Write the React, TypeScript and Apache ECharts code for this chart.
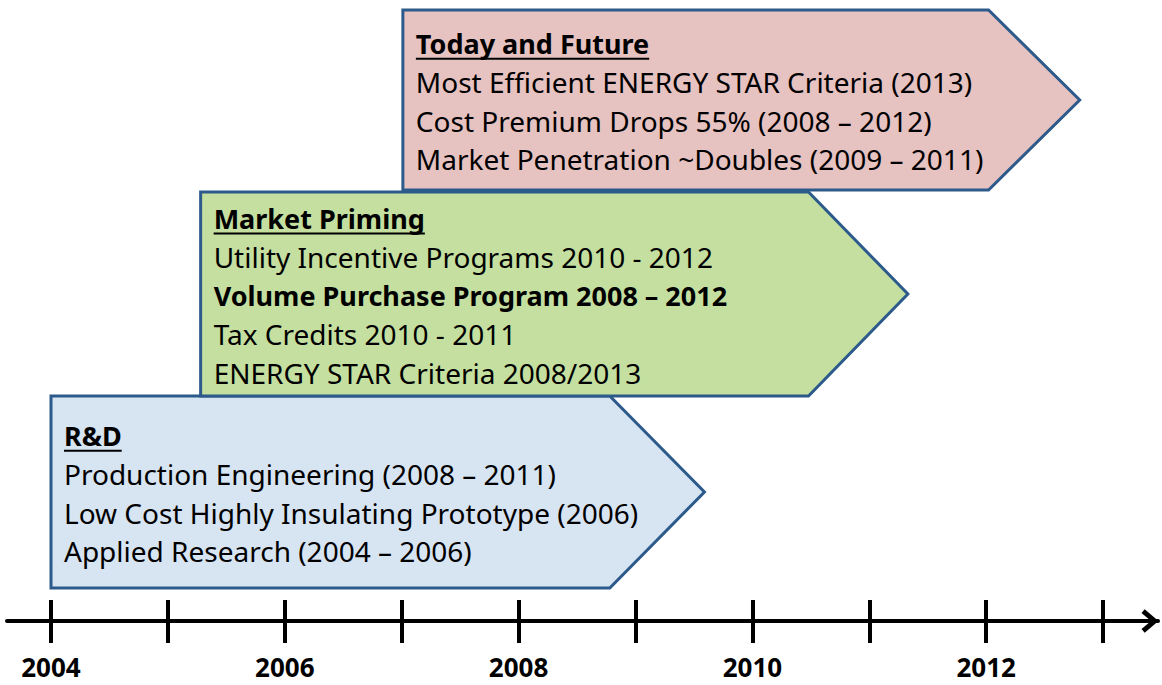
import React, { useEffect, useRef } from "react";
import * as echarts from "echarts";

// ---- data ----
const tickYears = [2004, 2005, 2006, 2007, 2008, 2009, 2010, 2011, 2012, 2013];
const labelYears = [2004, 2006, 2008, 2010, 2012];

const phaseTitles = ["R&D", "Market Priming", "Today and Future"];
const phaseStart = [2004.0, 2005.28, 2007.01];
const phaseBodyEnd = [2008.78, 2010.48, 2012.02];
const phaseTip = [2009.59, 2011.33, 2012.8];

const rdItems = [
  "Production Engineering (2008 – 2011)",
  "Low Cost Highly Insulating Prototype (2006)",
  "Applied Research (2004 – 2006)",
];
const primingItems = [
  "Utility Incentive Programs 2010 - 2012",
  "Volume Purchase Program 2008 – 2012",
  "Tax Credits 2010 - 2011",
  "ENERGY STAR Criteria 2008/2013",
];
const primingBold = [false, true, false, false];
const futureItems = [
  "Most Efficient ENERGY STAR Criteria (2013)",
  "Cost Premium Drops 55% (2008 – 2012)",
  "Market Penetration ~Doubles (2009 – 2011)",
];

const phaseItems = [rdItems, primingItems, futureItems];
const phaseBold = [rdItems.map(() => false), primingBold, futureItems.map(() => false)];

// ---- layout / style (not data) ----
const bands = [
  [33, 225],
  [225, 429],
  [431, 611],
];
const fills = ["#d7e4f2", "#c4df9f", "#e6c2c1"];
const borderColor = "#2c5a8b";
const FONT = '"Noto Sans", sans-serif';
const FS = 28;
const FS_BOLD = 27;
const LINE_H = 38.5;

function measure(text: string, bold: boolean) {
  const size = bold ? FS_BOLD : FS;
  const c = document.createElement("canvas").getContext("2d");
  if (!c) return text.length * size * 0.55;
  c.font = `${bold ? "bold " : ""}${size}px "Noto Sans"`;
  return c.measureText(text).width;
}

export default function App() {
  const ref = useRef<HTMLDivElement>(null);
  useEffect(() => {
    if (!ref.current) return;
    const chart = echarts.init(ref.current, undefined, { renderer: "svg" });
    const data = phaseTitles.map((_, i) => [phaseStart[i], phaseBodyEnd[i], phaseTip[i], i]);
    chart.setOption({
      animation: false,
      grid: { left: 7, right: 4, top: 0, bottom: 64 },
      xAxis: [
        {
          type: "value",
          min: 2003.6236,
          max: 2013.4696,
          position: "bottom",
          splitLine: { show: false },
          axisLine: {
            show: true,
            lineStyle: { color: "#000", width: 4 },
            symbol: ["none", "path://M0,13 L11,0 L22,13 L18.5,16 L11,7 L3.5,16 Z"],
            symbolSize: [24, 17],
            symbolOffset: [0, -8],
          },
          axisTick: {
            show: true,
            inside: true,
            length: 21,
            customValues: tickYears,
            lineStyle: { color: "#000", width: 4 },
          },
          axisLabel: { show: false },
        },
        {
          type: "value",
          min: 2003.6236,
          max: 2013.4696,
          position: "bottom",
          splitLine: { show: false },
          axisLine: { show: false },
          axisTick: {
            show: true,
            inside: false,
            length: 22,
            customValues: tickYears,
            lineStyle: { color: "#000", width: 4 },
          },
          axisLabel: {
            show: true,
            customValues: labelYears,
            margin: 35,
            fontFamily: FONT,
            fontWeight: "bold",
            fontSize: 26,
            lineHeight: 22,
            color: "#000",
            formatter: (v: number) => String(Math.round(v)),
          },
        },
      ],
      yAxis: { type: "value", min: 0, max: 621, show: false },
      series: [
        {
          type: "custom",
          xAxisIndex: 0,
          data,
          renderItem: (params: any, api: any) => {
            const i = api.value(3);
            const [yb, yt] = bands[i];
            const pTL = api.coord([api.value(0), yt]);
            const pBL = api.coord([api.value(0), yb]);
            const pTR = api.coord([api.value(1), yt]);
            const pBR = api.coord([api.value(1), yb]);
            const pTip = api.coord([api.value(2), (yt + yb) / 2]);
            const children: any[] = [
              {
                type: "polygon",
                shape: { points: [pTL, pTR, pTip, pBR, pBL] },
                style: { fill: fills[i], stroke: borderColor, lineWidth: 3, lineJoin: "miter" },
              },
            ];
            const items = phaseItems[i];
            const n = items.length + 1;
            const cy = (pTL[1] + pBL[1]) / 2 + 1.5;
            const tx = pTL[0] + 13;
            const lines = [phaseTitles[i], ...items];
            lines.forEach((t, k) => {
              const y = cy + (k - (n - 1) / 2) * LINE_H;
              const bold = k === 0 || phaseBold[i][k - 1];
              children.push({
                type: "text",
                x: tx,
                y,
                style: {
                  text: t,
                  fontFamily: FONT,
                  fontSize: bold ? FS_BOLD : FS,
                  fontWeight: bold ? "bold" : "normal",
                  fill: "#000",
                  align: "left",
                  verticalAlign: "middle",
                },
              });
              if (k === 0) {
                const w = measure(t, true);
                children.push({
                  type: "line",
                  shape: { x1: tx, y1: y + 15, x2: tx + w, y2: y + 15 },
                  style: { stroke: "#000", lineWidth: 2 },
                });
              }
            });
            return { type: "group", children };
          },
        },
      ],
    });
    return () => chart.dispose();
  }, []);
  return (
    <div
      ref={ref}
      style={{ position: "fixed", left: 0, top: 0, width: 1162, height: 685, background: "#fff" }}
    />
  );
}
